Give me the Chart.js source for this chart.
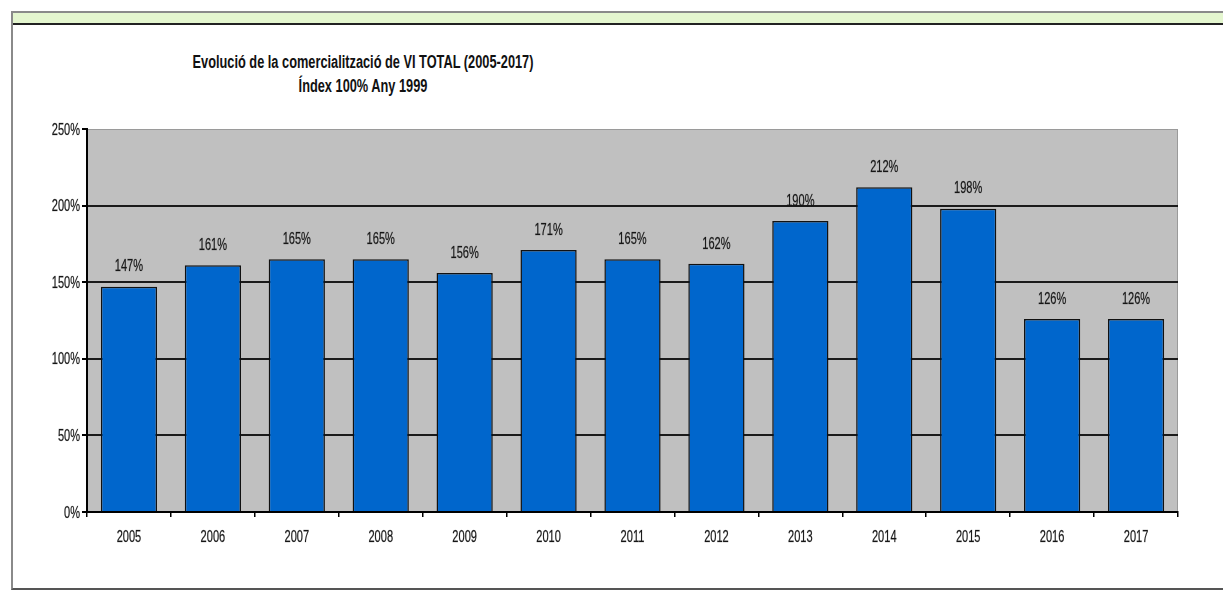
<!DOCTYPE html>
<html>
<head>
<meta charset="utf-8">
<script src="https://cdn.jsdelivr.net/npm/chart.js@4.4.0/dist/chart.umd.min.js"></script>
<style>
  html, body { margin: 0; padding: 0; background: #fff; }
  #wrap { position: relative; width: 1223px; height: 590px; overflow: hidden; }
  #frame { position: absolute; left: 11px; top: 11px; width: 1230px; height: 579px;
           border: 2px solid #8a8a8a; border-right: none; box-sizing: border-box; border-bottom-color: #555; }
  #strip { position: absolute; left: 13px; top: 13px; width: 1230px; height: 10px;
           background: #e4f6cf; border-bottom: 2px solid #222; }
  #title { position: absolute; left: 13px; top: 50px; width: 700px; text-align: center;
           font-family: 'Liberation Sans', Arial, sans-serif;
           font-weight: bold; font-size: 18px; line-height: 24px; color: #111;
           transform: scaleX(0.71); transform-origin: 350px 0; }
  canvas { position: absolute; left: 0; top: 0; }
</style>
</head>
<body>
<div id="wrap">
  <div id="frame"></div>
  <div id="strip"></div>
  <div id="title">Evolució de la comercialització de VI TOTAL (2005-2017)<br>Índex 100% Any 1999</div>
  <canvas id="chart" width="1223" height="590"></canvas>
</div>
<script>
// dades
const years = ['2005', '2006', '2007', '2008', '2009', '2010', '2011', '2012', '2013', '2014', '2015', '2016', '2017'];
const indexValues = [147, 161, 165, 165, 156, 171, 165, 162, 190, 212, 198, 126, 126];
const yTicks = [0, 50, 100, 150, 200, 250];

const FONT = "17px 'Liberation Sans', Arial, sans-serif";

// text estret (com Arial Narrow)
function narrowText(ctx, text, x, y, align) {
    ctx.save();
    ctx.translate(x, y);
    ctx.scale(0.65, 1);
    ctx.textAlign = align;
    ctx.strokeText(text, 0, 0);
    ctx.fillText(text, 0, 0);
    ctx.restore();
}

// fons gris de l'àrea del gràfic
const plotBg = {
    id: 'plotBg',
    beforeDraw(chart) {
        const { ctx, chartArea: a } = chart;
        ctx.save();
        ctx.fillStyle = '#c0c0c0';
        ctx.fillRect(a.left, a.top, a.right - a.left, a.bottom - a.top);
        ctx.strokeStyle = '#9a9a9a';
        ctx.lineWidth = 1;
        ctx.strokeRect(a.left + 0.5, a.top + 0.5, a.right - a.left - 1, a.bottom - a.top);
        ctx.restore();
    }
};

// etiquetes d'eixos i de valor
const labels = {
    id: 'labels',
    afterDraw(chart) {
        const { ctx, scales } = chart;
        const meta = chart.getDatasetMeta(0);
        ctx.save();
        ctx.font = FONT;
        ctx.fillStyle = '#151515';
        ctx.strokeStyle = 'rgba(20,20,20,0.45)';
        ctx.lineWidth = 0.5;
        ctx.textBaseline = 'middle';
        meta.data.forEach((bar, i) => {
            narrowText(ctx, indexValues[i] + '%', bar.x, bar.y - 20, 'center');
        });
        years.forEach((yr, i) => {
            narrowText(ctx, yr, scales.x.getPixelForTick(i), 537, 'center');
        });
        yTicks.forEach(v => {
            narrowText(ctx, v + '%', 80, scales.y.getPixelForValue(v) + 1, 'right');
        });
        ctx.restore();
    }
};

new Chart(document.getElementById('chart'), {
    type: 'bar',
    data: {
        labels: years,
        datasets: [{
            data: indexValues,
            backgroundColor: '#0066cc',
            borderColor: '#111',
            borderWidth: 1.5,
            borderSkipped: 'bottom',
            categoryPercentage: 0.67,
            barPercentage: 1
        }]
    },
    options: {
        responsive: false,
        animation: false,
        layout: { padding: { left: 0, right: 45, top: 129, bottom: 0 } },
        plugins: { legend: { display: false }, title: { display: false }, tooltip: { enabled: false } },
        scales: {
            x: {
                afterFit: s => { s.height = 78; },
                grid: { drawOnChartArea: false, drawTicks: true, tickLength: 5, offset: true, color: '#000', lineWidth: 1.5 },
                border: { display: true, color: '#000', width: 2 },
                ticks: { display: false }
            },
            y: {
                min: 0, max: 250,
                afterFit: s => { s.width = 87; },
                afterBuildTicks: s => { s.ticks = yTicks.map(v => ({ value: v })); },
                grid: {
                    color: c => (c.tick && c.tick.value === 250) ? 'rgba(0,0,0,0)' : '#1a1a1a',
                    tickColor: '#000',
                    lineWidth: 2,
                    tickLength: 5
                },
                border: { display: true, color: '#000', width: 2 },
                ticks: { display: false }
            }
        }
    },
    plugins: [plotBg, labels]
});
</script>
</body>
</html>
